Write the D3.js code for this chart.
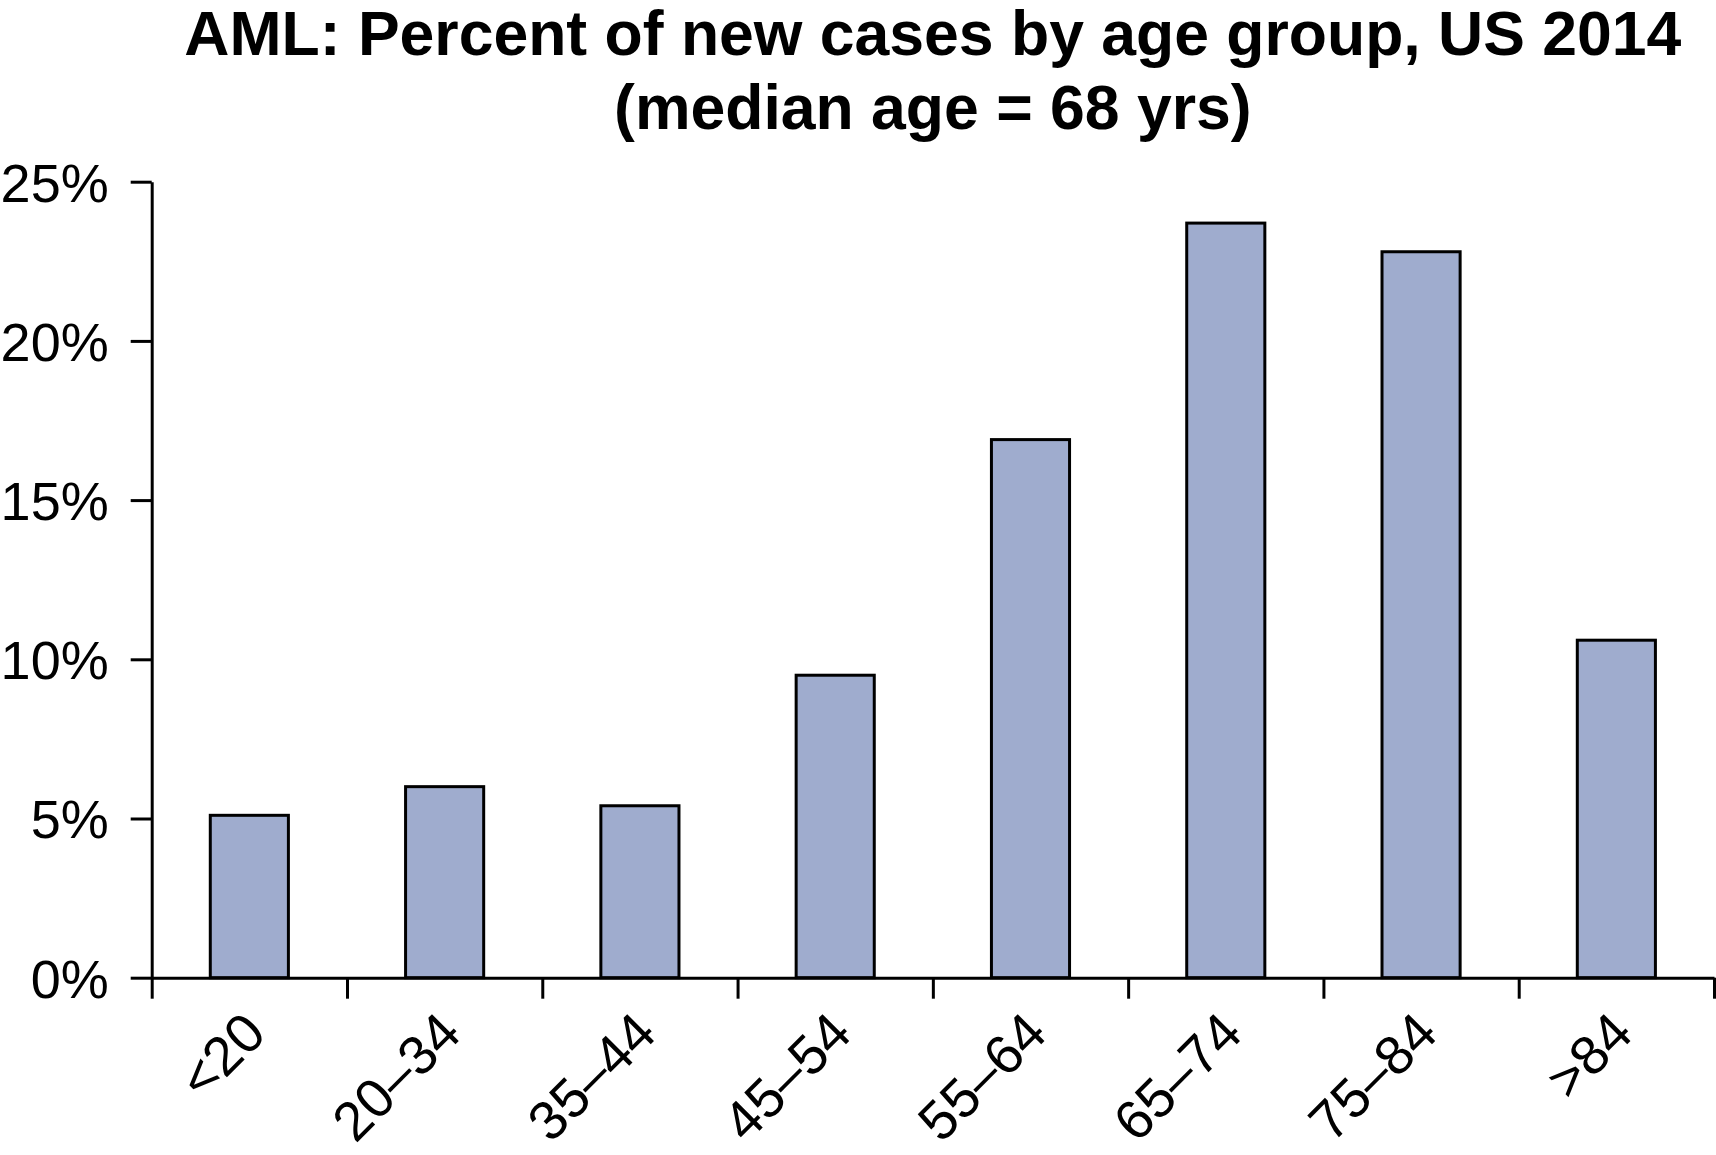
<!DOCTYPE html>
<html>
<head>
<meta charset="utf-8">
<script src="https://cdn.jsdelivr.net/npm/d3@7"></script>
<style>
  body { margin: 0; background: #fff; }
  svg text { font-family: "Liberation Sans", Arial, Helvetica, sans-serif; }
</style>
</head>
<body>
<div id="chart"></div>
<script>
// Data
const ageGroups = ['<20', '20–34', '35–44', '45–54', '55–64', '65–74', '75–84', '>84'];
const percentNew = [5.1, 6.0, 5.4, 9.5, 16.9, 23.7, 22.8, 10.6];
const yTicks = [0, 5, 10, 15, 20, 25];
const titleLines = ['AML: Percent of new cases by age group, US 2014', '(median age = 68 yrs)'];

const width = 1716;
const height = 1155;
const plot = { left: 151.7, right: 1714, top: 181.7, bottom: 977.7 };

const svg = d3.select('#chart')
    .append('svg')
    .attr('width', width)
    .attr('height', height);

svg.append('rect')
    .attr('width', width)
    .attr('height', height)
    .attr('fill', '#fff');

// Scales
const x = d3.scaleBand()
    .domain(ageGroups)
    .range([plot.left, plot.right])
    .paddingInner(0.6)
    .paddingOuter(0.3);

const xIndex = d3.scaleLinear()
    .domain([0, ageGroups.length])
    .range([plot.left, plot.right]);

const y = d3.scaleLinear()
    .domain([0, 25])
    .range([plot.bottom, plot.top]);

// Title
svg.append('g')
    .selectAll('text')
    .data(titleLines)
    .join('text')
    .attr('x', (plot.left + plot.right) / 2)
    .attr('y', (d, i) => 55 + i * 74)
    .attr('text-anchor', 'middle')
    .attr('font-size', 62.5)
    .attr('font-weight', 'bold')
    .attr('fill', '#000')
    .text(d => d);

// Bars
svg.append('g')
    .selectAll('rect')
    .data(ageGroups)
    .join('rect')
    .attr('x', d => x(d))
    .attr('y', (d, i) => y(percentNew[i]))
    .attr('width', x.bandwidth())
    .attr('height', (d, i) => y(0) - y(percentNew[i]))
    .attr('fill', '#9facce')
    .attr('stroke', '#000')
    .attr('stroke-width', 3);

// Y axis
const yAxis = svg.append('g')
    .attr('transform', `translate(${plot.left},0)`)
    .call(d3.axisLeft(y)
        .tickValues(yTicks)
        .tickSize(21)
        .tickSizeOuter(0)
        .tickPadding(22)
        .tickFormat(d => d + '%'));

yAxis.selectAll('path, line')
    .attr('stroke', '#000')
    .attr('stroke-width', 3);
yAxis.selectAll('text')
    .attr('font-size', 54)
    .attr('fill', '#000')
    .attr('dy', '0.36em');

// X axis (ticks at category boundaries)
const xAxis = svg.append('g')
    .attr('transform', `translate(0,${plot.bottom})`)
    .call(d3.axisBottom(xIndex)
        .tickValues(d3.range(ageGroups.length + 1))
        .tickSize(21)
        .tickSizeOuter(0)
        .tickFormat(''));

xAxis.selectAll('path, line')
    .attr('stroke', '#000')
    .attr('stroke-width', 3);

// Rotated category labels
svg.append('g')
    .selectAll('text')
    .data(ageGroups)
    .join('text')
    .attr('transform', d => `translate(${x(d) + x.bandwidth() / 2 + 19},1036) rotate(-45)`)
    .attr('text-anchor', 'end')
    .attr('font-size', 55)
    .attr('fill', '#000')
    .text(d => d);
</script>
</body>
</html>
